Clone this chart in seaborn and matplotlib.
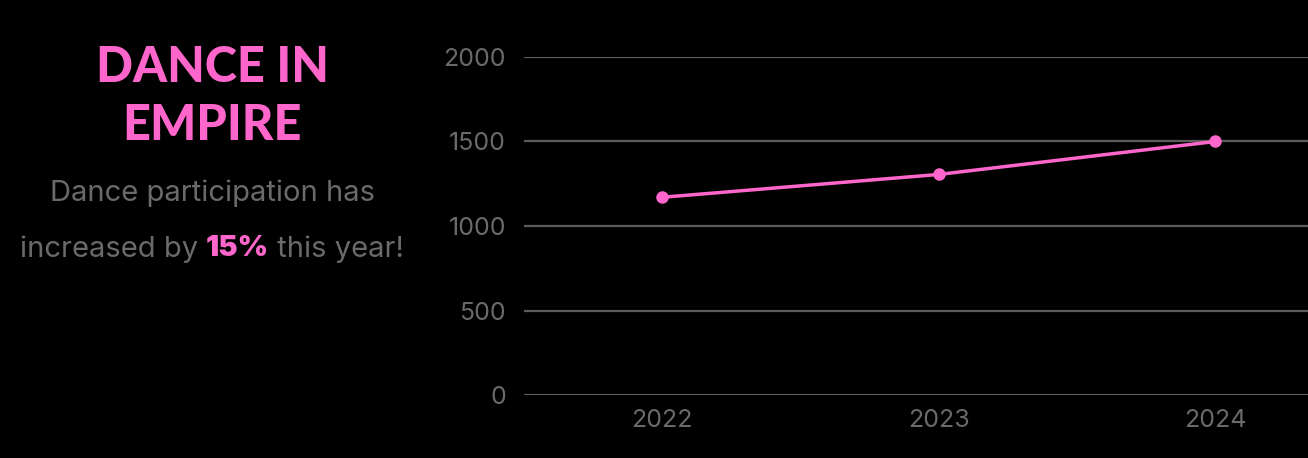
import matplotlib
matplotlib.use("Agg")
import matplotlib.pyplot as plt
import seaborn as sns
import pandas as pd

years = ["2022", "2023", "2024"]
participants = [1170, 1305, 1500]
yticks = [0, 500, 1000, 1500, 2000]

PINK = "#ff66cc"
GRAY = "#6a6a6a"
GRID = "#5c5c5c"
BG = "#000000"

sns.set_theme(style="dark")
plt.rcParams["font.family"] = ["Inter", "DejaVu Sans"]

df = pd.DataFrame({"year": years, "value": participants})

fig = plt.figure(figsize=(13.08, 4.58), dpi=100, facecolor=BG)
ax = fig.add_axes([524 / 1308, (458 - 395) / 458, (1308 - 524) / 1308, (395 - 57) / 458])
ax.set_facecolor(BG)

sns.lineplot(data=df, x="year", y="value", ax=ax, color=PINK, linewidth=2.5,
             marker="o", markersize=9, markeredgewidth=0, sort=False)

ax.set_ylim(0, 2000)
ax.set_xlim(-0.5, 2.336)
ax.set_yticks(yticks)
ax.set_yticklabels([str(v) for v in yticks])
ax.grid(False)
for v in yticks:
    ax.axhline(v, color=GRID, linewidth=1.6, zorder=0)
for s in ax.spines.values():
    s.set_visible(False)
ax.tick_params(axis="both", colors=GRAY, labelsize=18, length=0)
ax.tick_params(axis="y", pad=13)
ax.tick_params(axis="x", pad=10)
ax.set_xlabel("")
ax.set_ylabel("")

# Left-side text
cx = 212 / 1308
TITLE_FONT = ["Lato", "DejaVu Sans"]
fig.text(cx, 1 - 67 / 458, "DANCE IN", color=PINK, fontsize=35, fontweight="black",
         ha="center", va="center", family=TITLE_FONT)
fig.text(cx, 1 - 126 / 458, "EMPIRE", color=PINK, fontsize=35, fontweight="black",
         ha="center", va="center", family=TITLE_FONT)
fig.text(cx, 1 - 193 / 458, "Dance participation has", color=GRAY, fontsize=21,
         ha="center", va="center")

# mixed color line
y2 = 1 - 249 / 458
parts = [("increased by ", GRAY, "normal"), ("15%", PINK, "black"), (" this year!", GRAY, "normal")]
fig.canvas.draw()
renderer = fig.canvas.get_renderer()
tmp = []
for s, c, w in parts:
    t = fig.text(0, y2, s, color=c, fontsize=21, fontweight=w, va="center", ha="left")
    tmp.append(t)
widths = [t.get_window_extent(renderer).width / fig.bbox.width for t in tmp]
total = sum(widths)
x = cx - total / 2
for t, w in zip(tmp, widths):
    t.set_x(x)
    x += w

fig.savefig("out.png", dpi=100, facecolor=BG)
